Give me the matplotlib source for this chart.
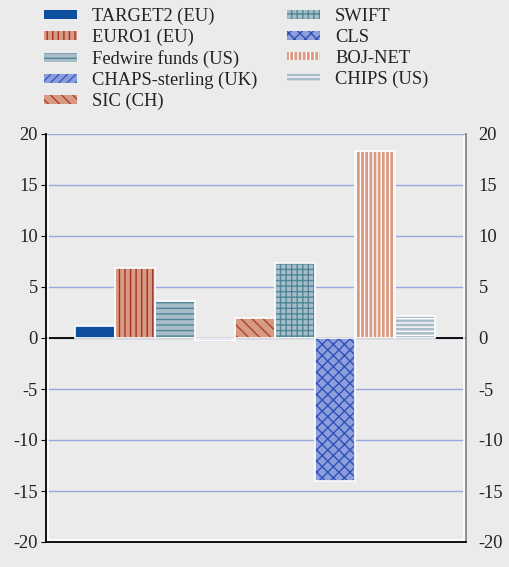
import matplotlib
matplotlib.use('Agg')
import matplotlib.pyplot as plt
import matplotlib.transforms as mtransforms
from matplotlib.patches import Patch

plt.rcParams['font.family'] = ['Liberation Serif', 'DejaVu Serif']
plt.rcParams['hatch.linewidth'] = 1.0

# Data
systems = ['TARGET2 (EU)', 'EURO1 (EU)', 'Fedwire funds (US)', 'CHAPS-sterling (UK)',
           'SIC (CH)', 'SWIFT', 'CLS', 'BOJ-NET', 'CHIPS (US)']
values = [1.2, 6.9, 3.6, -0.15, 2.0, 7.4, -14.0, 18.3, 2.2]
yticks = [-20, -15, -10, -5, 0, 5, 10, 15, 20]

# Styles: fill colour, hatch pattern, hatch colour
fills = ['#0f4fa0', '#d79a82', '#a9bdc8', '#8c9edb', '#d79a82',
         '#a9bdc8', '#8c9edb', '#d99a80', '#a9bdc8']
hatches = [None, '|||', '---', '////', '\\\\\\', '+++', 'xxx', '||||', '----']
hatch_cols = ['#0f4fa0', '#a8322a', '#4e8797', '#3a5cc0', '#b04030',
              '#4e8797', '#2f52b8', 'white', 'white']

bg = '#ebebeb'
fs = 13.3
fig = plt.figure(figsize=(5.09, 5.67), dpi=100, facecolor=bg)
ax = fig.add_axes([46 / 509, 1 - 542 / 567, 420 / 509, 408 / 567])
ax.set_facecolor(bg)

x = list(range(len(values)))
# hatched fill first (hatch colour follows edgecolor), then white outline on top
for xi, v, fc, h, hc in zip(x, values, fills, hatches, hatch_cols):
    ax.bar(xi, v, width=1.0, color=fc, hatch=h, edgecolor=hc, linewidth=0, zorder=3)
    ax.bar(xi, v, width=1.0, fill=False, edgecolor='white', linewidth=1.2, zorder=4)

ax.axhline(0, color='black', linewidth=1.3, zorder=2)
ax.set_xlim(-1.225, 9.275)
ax.set_ylim(-20, 20)
ax.set_yticks(yticks)
ax.set_yticklabels([str(t) for t in yticks])
ax.set_xticks([])
ax.yaxis.grid(True, color='#9aa6dc', linewidth=1.0, zorder=1)
ax.set_axisbelow(True)
ax.tick_params(axis='y', left=False, right=False, labelsize=fs, pad=2.5,
               labelcolor='#222222')

# right-hand labels on a twin axis so they get their own padding
ax2 = ax.twinx()
ax2.set_ylim(-20, 20)
ax2.set_yticks(yticks)
ax2.set_yticklabels([str(t) for t in yticks])
ax2.tick_params(axis='y', right=False, labelsize=fs, pad=5.5, labelcolor='#222222')
for s in ax2.spines.values():
    s.set_visible(False)

ax.spines['top'].set_visible(False)
ax.spines['left'].set_color('black')
ax.spines['bottom'].set_color('black')
ax.spines['right'].set_color('#888888')
for s in ['left', 'bottom', 'right']:
    ax.spines[s].set_linewidth(1.3)

# thin white shadow lines just inside the frame
tr_l = mtransforms.offset_copy(ax.transAxes, fig=fig, x=2, y=0, units='dots')
tr_b = mtransforms.offset_copy(ax.transAxes, fig=fig, x=0, y=2, units='dots')
tr_r = mtransforms.offset_copy(ax.transAxes, fig=fig, x=-2, y=0, units='dots')
ax.plot([0, 0], [0.005, 0.995], transform=tr_l, color='white', lw=1.2, clip_on=False, zorder=5)
ax.plot([0.005, 0.995], [0, 0], transform=tr_b, color='white', lw=1.2, clip_on=False, zorder=5)
ax.plot([1, 1], [0.005, 0.995], transform=tr_r, color='white', lw=1.2, clip_on=False, zorder=5)

handles = [Patch(facecolor=fc, hatch=h, edgecolor=hc, linewidth=0)
           for fc, h, hc in zip(fills, hatches, hatch_cols)]
fig.legend(handles, systems, loc='upper left', bbox_to_anchor=(44 / 509, 1 - 8 / 567),
           ncol=2, frameon=False, fontsize=fs, handlelength=1.8, handleheight=0.35,
           handletextpad=0.8, labelspacing=0.2, columnspacing=1.6, borderpad=0,
           borderaxespad=0, labelcolor='#222222')

fig.savefig('out.png', dpi=100, facecolor=bg)
